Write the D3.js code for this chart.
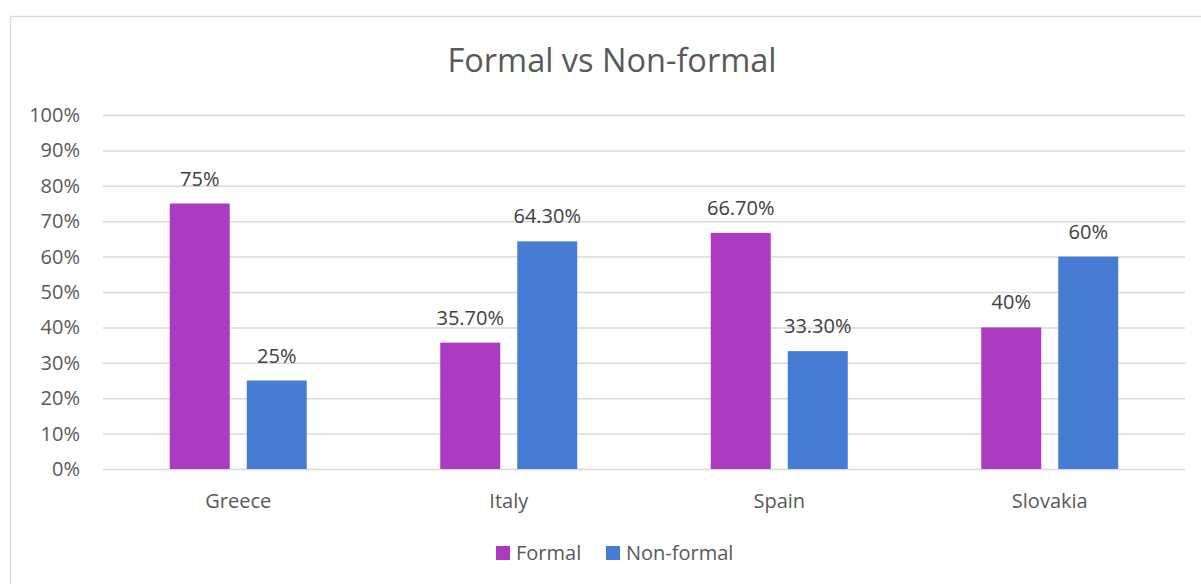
<!DOCTYPE html>
<html>
<head>
<meta charset="utf-8">
<script src="https://cdn.jsdelivr.net/npm/d3@7"></script>
<style>
  html, body { margin: 0; padding: 0; background: #fff; }
  svg { display: block; font-family: "Open Sans", "Noto Sans", sans-serif; }
</style>
</head>
<body>
<svg id="chart" width="1201" height="584"></svg>
<script>
// Share of respondents by training type, per country
const countries = ["Greece", "Italy", "Spain", "Slovakia"];
const seriesNames = ["Formal", "Non-formal"];
const formal = [75, 35.7, 66.7, 40];
const nonFormal = [25, 64.3, 33.3, 60];
const valueLabels = [["75%", "35.70%", "66.70%", "40%"], ["25%", "64.30%", "33.30%", "60%"]];
const yTicks = [0, 10, 20, 30, 40, 50, 60, 70, 80, 90, 100];
const colors = ["#AB3CC1", "#477CD4"];

const svg = d3.select("#chart");
const W = 1201, H = 584;
const plot = { left: 103, right: 1185, top: 115, bottom: 469 };
const labelFont = "20px";

// outer chart frame
svg.append("rect")
  .attr("x", 10.5).attr("y", 16.5)
  .attr("width", W + 20).attr("height", H + 20)
  .attr("fill", "#fff").attr("stroke", "#d9d9d9").attr("stroke-width", 1.3);

svg.append("text")
  .attr("x", 612).attr("y", 72)
  .attr("text-anchor", "middle")
  .attr("fill", "#595959")
  .style("font-size", "32.5px")
  .text("Formal vs Non-formal");

const y = d3.scaleLinear().domain([0, 100]).range([plot.bottom, plot.top]);
const x0 = d3.scaleBand().domain(countries)
  .range([plot.left, plot.right])
  .paddingInner(0.4935).paddingOuter(0.4935 / 2);
const x1 = d3.scaleBand().domain(seriesNames)
  .range([0, x0.bandwidth()])
  .paddingInner(0.2208).paddingOuter(0);

// gridlines
svg.append("g")
  .attr("transform", `translate(${plot.left},0)`)
  .call(d3.axisLeft(y).tickValues(yTicks).tickSize(-(plot.right - plot.left)).tickFormat(""))
  .call(g => g.select(".domain").remove())
  .call(g => g.selectAll(".tick line").attr("stroke", "#d9d9d9").attr("stroke-width", 1.5));

// y tick labels
svg.append("g")
  .attr("transform", `translate(80,0)`)
  .call(d3.axisLeft(y).tickValues(yTicks).tickSize(0).tickPadding(0).tickFormat(d => d + "%"))
  .call(g => g.select(".domain").remove())
  .call(g => g.selectAll(".tick text")
    .attr("fill", "#595959").style("font-size", labelFont)
    .style("font-family", "'Open Sans', 'Noto Sans', sans-serif"));

// category labels
svg.append("g")
  .attr("transform", `translate(0,${plot.bottom})`)
  .call(d3.axisBottom(x0).tickSize(0).tickPadding(0))
  .call(g => g.select(".domain").remove())
  .call(g => g.selectAll(".tick text")
    .attr("dy", null).attr("y", 39)
    .attr("fill", "#595959").style("font-size", labelFont)
    .style("font-family", "'Open Sans', 'Noto Sans', sans-serif"));

const seriesData = [formal, nonFormal];
seriesNames.forEach((name, si) => {
  const g = svg.append("g");
  g.selectAll("rect").data(countries).join("rect")
    .attr("x", c => x0(c) + x1(name))
    .attr("y", (c, i) => y(seriesData[si][i]))
    .attr("width", x1.bandwidth())
    .attr("height", (c, i) => y(0) - y(seriesData[si][i]))
    .attr("fill", colors[si]);
  g.selectAll("text").data(countries).join("text")
    .attr("x", c => x0(c) + x1(name) + x1.bandwidth() / 2)
    .attr("y", (c, i) => y(seriesData[si][i]) - 18)
    .attr("text-anchor", "middle")
    .attr("fill", "#404040")
    .style("font-size", labelFont)
    .text((c, i) => valueLabels[si][i]);
});

// legend
const legend = svg.append("g").attr("transform", "translate(496,553)");
const legendX = [0, 110];
seriesNames.forEach((name, i) => {
  const item = legend.append("g").attr("transform", `translate(${legendX[i]},0)`);
  item.append("rect").attr("x", 0).attr("y", -7).attr("width", 14).attr("height", 14).attr("fill", colors[i]);
  item.append("text").attr("x", 20).attr("y", 7)
    .attr("fill", "#595959").style("font-size", labelFont).text(name);
});
</script>
</body>
</html>
